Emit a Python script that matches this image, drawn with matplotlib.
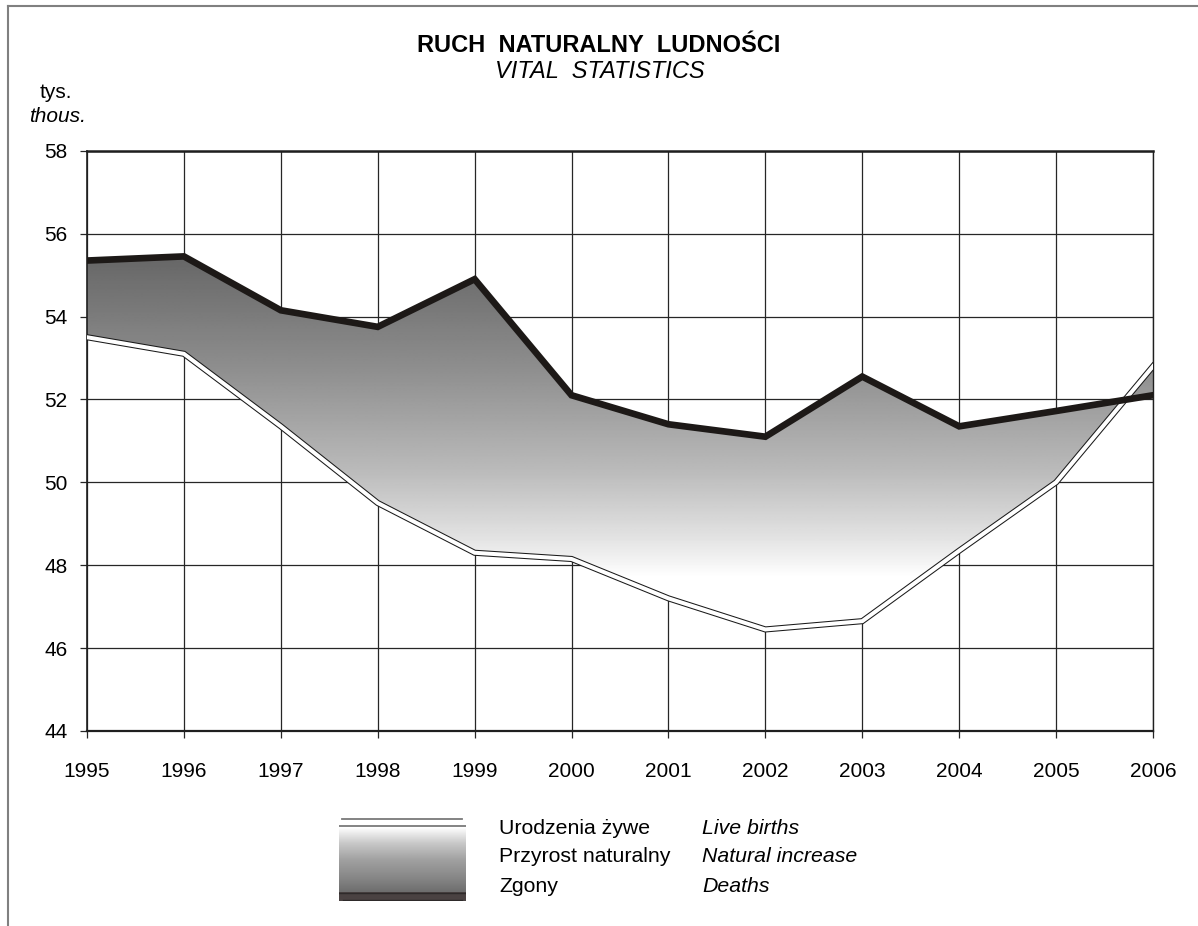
import numpy as np
import matplotlib
matplotlib.use("Agg")
import matplotlib.pyplot as plt
from matplotlib.lines import Line2D

plt.rcParams['font.family'] = ['Liberation Sans', 'DejaVu Sans']

# data (thousands)
years = [1995, 1996, 1997, 1998, 1999, 2000, 2001, 2002, 2003, 2004, 2005, 2006]
births = [53.5, 53.1, 51.35, 49.5, 48.3, 48.15, 47.2, 46.45, 46.65, 48.35, 50.0, 52.8]
deaths = [55.35, 55.45, 54.15, 53.75, 54.9, 52.1, 51.4, 51.1, 52.55, 51.35, 51.72, 52.1]
yticks = [44, 46, 48, 50, 52, 54, 56, 58]

W, H = 1198, 926
fig = plt.figure(figsize=(W / 100, H / 100), dpi=100)


def fx(px):
    return px / W


def fy(py):
    return 1 - py / H


ax = fig.add_axes([fx(87), fy(731), fx(1153) - fx(87), fy(150.7) - fy(731)])
ax.set_xlim(1995, 2006)
ax.set_ylim(44, 58)

# gradient between the two series (dark at top, white lower down)
gy = np.linspace(44, 58, 400)
shade = np.interp(gy, [47.7, 48.6, 50.3, 52.7, 55.5, 58], [255, 228, 186, 143, 102, 90]) / 255.0
img = np.repeat(shade[:, None], 2, axis=1)
poly = ax.fill_between(years, births, deaths, color='none', lw=0, zorder=2)
im = ax.imshow(img, cmap='gray', vmin=0, vmax=1, origin='lower', aspect='auto',
               extent=[1995, 2006, 44, 58], zorder=2, interpolation='bilinear')
im.set_clip_path(poly.get_paths()[0], transform=ax.transData)

# live births: white ribbon with black edges
ax.plot(years, births, color='#1a1a1a', lw=4.4, zorder=3, solid_joinstyle='miter')
ax.plot(years, births, color='white', lw=2.9, zorder=4, solid_joinstyle='miter')
# deaths: thick dark line
ax.plot(years, deaths, color='#1d1917', lw=4.8, zorder=5, solid_joinstyle='miter')

ax.set_xticks(years)
ax.set_yticks(yticks)
ax.grid(True, color='#262626', lw=0.9)
ax.set_axisbelow(True)
for s in ax.spines.values():
    s.set_color('#1f1f1f')
ax.spines['top'].set_linewidth(1.8)
ax.spines['bottom'].set_linewidth(1.6)
ax.spines['left'].set_linewidth(1.2)
ax.spines['right'].set_linewidth(1.0)
ax.tick_params(axis='y', length=5, width=0.9, pad=9, labelsize=15, color='#262626')
ax.tick_params(axis='x', length=5, width=0.9, pad=17.5, labelsize=15, color='#262626')

# titles and unit
fig.text(fx(599), fy(46), 'RUCH  NATURALNY  LUDNOŚCI', ha='center', va='center',
         fontsize=17, fontweight='bold')
fig.text(fx(600), fy(71), 'VITAL  STATISTICS', ha='center', va='center',
         fontsize=17, style='italic')
fig.text(fx(56), fy(93), 'tys.', ha='center', va='center', fontsize=15)
fig.text(fx(57), fy(117), 'thous.', ha='center', va='center', fontsize=15, style='italic')

# legend swatch
lax = fig.add_axes([fx(339), fy(901), fx(466) - fx(339), fy(817) - fy(901)])
lax.set_xlim(0, 1)
lax.set_ylim(901, 817)
lax.axis('off')
ly = np.linspace(827, 892, 100)
lshade = np.interp(ly, [827, 843, 860, 877, 892], [255, 200, 160, 136, 110]) / 255.0
lax.imshow(np.repeat(lshade[:, None], 2, axis=1), cmap='gray', vmin=0, vmax=1,
           extent=[0, 1, 892, 827], aspect='auto', interpolation='bilinear')
lax.add_patch(plt.Rectangle((0, 892), 1, 8.5, color='#4a4242', lw=0))
lax.plot([0, 1], [892.5, 892.5], color='#2e2a2a', lw=1.0)
lax.plot([0.03, 0.97], [900, 900], color='#2e2a2a', lw=1.0)
lax.plot([0.025, 0.97], [818.5, 818.5], color='#7a7a7a', lw=1.3)
lax.plot([0, 1], [826, 826], color='#7a7a7a', lw=1.3)

leg_rows = [('Urodzenia żywe', 'Live births', 828),
            ('Przyrost naturalny', 'Natural increase', 856),
            ('Zgony', 'Deaths', 887)]
for pl, en, yy in leg_rows:
    fig.text(fx(499), fy(yy), pl, ha='left', va='center', fontsize=15.3)
    fig.text(fx(702), fy(yy), en, ha='left', va='center', fontsize=15.3, style='italic')

# outer frame (top and left edges)
fig.add_artist(Line2D([fx(8), 1], [fy(6), fy(6)], color='#808080', lw=1.5))
fig.add_artist(Line2D([fx(8), fx(8)], [fy(6), 0], color='#808080', lw=1.5))

fig.savefig('out.png', dpi=100)
